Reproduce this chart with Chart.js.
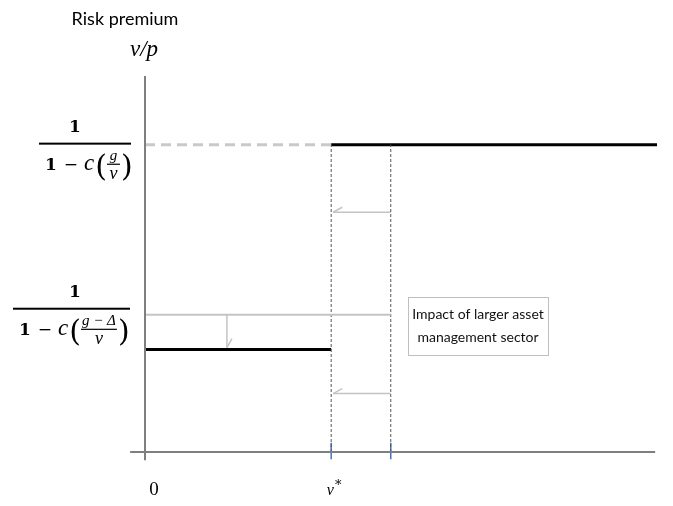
<!DOCTYPE html>
<html>
<head>
<meta charset="utf-8">
<script src="https://cdn.jsdelivr.net/npm/chart.js@4.4.0/dist/chart.umd.min.js"></script>
<style>
  html, body { margin: 0; padding: 0; background: #fff; }
  #chart { display: block; }
</style>
</head>
<body>
<canvas id="chart" width="673" height="506"></canvas>
<script>
// x positions (in units of v*)
const xMin = 0;
const xMax = 2.75;
const vStar = 1;          // threshold v*
const vShifted = 1.32;    // threshold after shift
const arrowX = 0.44;      // x of the downward arrow

// risk premium levels
const yMax = 3.67;
const premiumHigh = 3.0;
const premiumLow = 1.0;
const premiumLowOld = 1.34;
const arrowLevels = [2.34, 0.57];

const xTickLabels = ['0', 'v*'];
const boxLines = ['Impact of larger asset', 'management sector'];

function seg(x0, y0, x1, y1) {
    return [{ x: x0, y: y0 }, { x: x1, y: y1 }];
}

function lineSet(data, color, width, dash) {
    return {
        data: data,
        borderColor: color,
        borderWidth: width,
        borderDash: dash || [],
        pointRadius: 0,
        fill: false,
        tension: 0,
        clip: false
    };
}

const datasets = [
    // axes
    lineSet(seg(-0.08, 0, 2.74, 0), '#7f7f7f', 2),
    lineSet(seg(0, -0.08, 0, yMax), '#7f7f7f', 2),
    // old regime (grey)
    lineSet(seg(xMin, premiumHigh, vStar, premiumHigh), '#c9c9c9', 3, [10, 6]),
    lineSet(seg(xMin, premiumLowOld, vShifted, premiumLowOld), '#c4c4c4', 2),
    // dotted thresholds
    lineSet(seg(vStar, 0, vStar, premiumHigh), '#555555', 1, [3, 2]),
    lineSet(seg(vShifted, 0, vShifted, premiumHigh), '#555555', 1, [3, 2]),
    // shift arrows
    lineSet(seg(vShifted, arrowLevels[0], vStar + 0.01, arrowLevels[0]), '#c4c4c4', 1.5),
    lineSet(seg(vShifted, arrowLevels[1], vStar + 0.01, arrowLevels[1]), '#c4c4c4', 1.5),
    lineSet(seg(arrowX, premiumLowOld, arrowX, premiumLow + 0.02), '#c4c4c4', 1.5),
    // blue ticks
    lineSet(seg(vStar, -0.07, vStar, 0.09), '#4472c4', 1.5),
    lineSet(seg(vShifted, -0.07, vShifted, 0.09), '#4472c4', 1.5),
    // new regime (black)
    lineSet(seg(xMin, premiumLow, vStar, premiumLow), '#000000', 3),
    lineSet(seg(vStar, premiumHigh, xMax, premiumHigh), '#000000', 3)
];

function drawFraction(ctx, cx, topY, inner, barLeft, barRight) {
    ctx.fillStyle = '#000';
    ctx.textAlign = 'center';
    ctx.textBaseline = 'alphabetic';
    ctx.font = 'bold 17px "DejaVu Serif"';
    ctx.fillText('1', cx, topY);
    // main bar
    ctx.fillRect(barLeft, topY + 11, barRight - barLeft, 2);
    // denominator
    const baseY = topY + 38;
    ctx.textAlign = 'left';
    let x = barLeft + 6;
    ctx.font = 'bold 17px "DejaVu Serif"';
    ctx.fillText('1', x, baseY);
    x += ctx.measureText('1').width + 7;
    ctx.font = '17px "DejaVu Serif"';
    ctx.fillText('\u2212', x, baseY);
    x += ctx.measureText('\u2212').width + 6;
    ctx.font = 'italic 23px "Liberation Serif"';
    ctx.fillText('c', x, baseY);
    x += ctx.measureText('c').width + 1;
    ctx.font = '30px "DejaVu Serif"';
    ctx.fillText('(', x, baseY + 6);
    x += ctx.measureText('(').width;
    ctx.font = 'italic 15px "Liberation Serif"';
    const w = Math.max(ctx.measureText(inner).width, 11);
    ctx.textAlign = 'center';
    ctx.fillText(inner, x + w / 2 + 1, baseY - 10);
    ctx.fillRect(x, baseY - 6, w + 2, 1.2);
    ctx.font = 'italic 18px "Liberation Serif"';
    ctx.fillText('v', x + w / 2 + 1, baseY + 9);
    x += w + 3;
    ctx.textAlign = 'left';
    ctx.font = '30px "DejaVu Serif"';
    ctx.fillText(')', x, baseY + 6);
}

const annotations = {
    id: 'annotations',
    afterDatasetsDraw(chart) {
        const ctx = chart.ctx;
        const xs = chart.scales.x, ys = chart.scales.y;
        ctx.save();

        // arrow heads
        ctx.strokeStyle = '#c4c4c4';
        ctx.lineWidth = 1.5;
        arrowLevels.forEach(lv => {
            const px = xs.getPixelForValue(vStar) + 2, py = ys.getPixelForValue(lv);
            ctx.beginPath();
            ctx.moveTo(px, py);
            ctx.lineTo(px + 9, py - 5);
            ctx.stroke();
        });
        const ax = xs.getPixelForValue(arrowX), ay = ys.getPixelForValue(premiumLow) - 2;
        ctx.beginPath();
        ctx.moveTo(ax, ay);
        ctx.lineTo(ax + 5, ay - 9);
        ctx.stroke();

        // axis titles
        ctx.fillStyle = '#000';
        ctx.textAlign = 'center';
        ctx.textBaseline = 'alphabetic';
        ctx.font = '18px Lato';
        ctx.fillText('Risk premium', 125, 25);
        ctx.font = 'italic 23px "Liberation Serif"';
        ctx.fillText('v/p', 144, 56);

        // y labels
        drawFraction(ctx, 75, ys.getPixelForValue(premiumHigh) - 13, 'g', 39, 131);
        drawFraction(ctx, 75, ys.getPixelForValue(premiumLowOld) - 18, 'g \u2212 \u0394', 13, 130);

        // x labels
        ctx.textAlign = 'center';
        ctx.font = '19px "Liberation Serif"';
        ctx.fillText(xTickLabels[0], xs.getPixelForValue(0) + 9, 495);
        ctx.font = 'italic 16px "Liberation Serif"';
        ctx.fillText('v', xs.getPixelForValue(vStar) - 1, 495);
        ctx.font = '13px "DejaVu Serif"';
        ctx.fillText('*', xs.getPixelForValue(vStar) + 7, 489);

        // text box
        const bx = 408, by = 297, bw = 140, bh = 58;
        ctx.fillStyle = '#fff';
        ctx.fillRect(bx, by, bw, bh);
        ctx.strokeStyle = '#bfbfbf';
        ctx.lineWidth = 1;
        ctx.strokeRect(bx + 0.5, by + 0.5, bw, bh);
        ctx.fillStyle = '#111';
        ctx.font = '14px Lato';
        ctx.fillText(boxLines[0], bx + bw / 2, by + 22);
        ctx.fillText(boxLines[1], bx + bw / 2, by + 45);
        ctx.restore();
    }
};

new Chart(document.getElementById('chart'), {
    type: 'line',
    data: { datasets: datasets },
    options: {
        responsive: false,
        animation: false,
        layout: { padding: { left: 145, right: 16, top: 76, bottom: 54 } },
        plugins: { legend: { display: false }, tooltip: { enabled: false } },
        scales: {
            x: { type: 'linear', display: false, min: xMin, max: xMax },
            y: { type: 'linear', display: false, min: 0, max: yMax }
        }
    },
    plugins: [annotations]
});
</script>
</body>
</html>
